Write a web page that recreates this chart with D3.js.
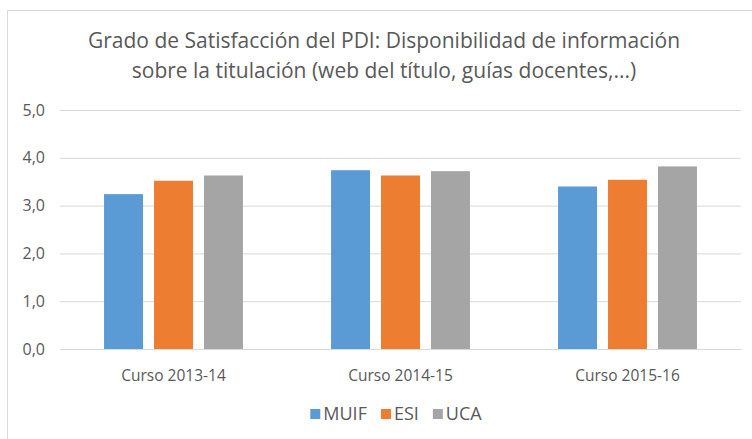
<!DOCTYPE html>
<html>
<head>
<meta charset="utf-8">
<title>Grado de Satisfacción del PDI</title>
<script src="https://d3js.org/d3.v7.min.js"></script>
<style>
  body { margin: 0; background: #fff; }
  text { font-family: "Open Sans", "Noto Sans", sans-serif; fill: #595959; }
</style>
</head>
<body>
<div id="container"></div>
<script>
// chart data
var categories = ["Curso 2013-14", "Curso 2014-15", "Curso 2015-16"];
var seriesNames = ["MUIF", "ESI", "UCA"];
var MUIF = [3.24, 3.74, 3.40];
var ESI = [3.52, 3.63, 3.54];
var UCA = [3.63, 3.72, 3.82];
var yTicks = [0, 1, 2, 3, 4, 5];
var titleLines = ["Grado de Satisfacción del PDI: Disponibilidad de información",
                  "sobre la titulación (web del título, guías docentes,...)"];

var colors = ["#5b9bd5", "#ed7d31", "#a5a5a5"];
var seriesValues = [MUIF, ESI, UCA];

var width = 752, height = 439;
var margin = {left: 60, right: 11, top: 110, bottom: 90};

var svg = d3.select("#container").append("svg")
    .attr("width", width).attr("height", height);

// outer chart frame
svg.append("rect")
    .attr("x", 7.5).attr("y", 10.5)
    .attr("width", 770).attr("height", 460)
    .attr("fill", "#fff").attr("stroke", "#d9d9d9");

var x0 = d3.scaleBand()
    .domain(categories)
    .range([margin.left, width - margin.right])
    .paddingInner(0.388).paddingOuter(0.194);

var x1 = d3.scaleBand()
    .domain(seriesNames)
    .range([0, x0.bandwidth()])
    .paddingInner(0.22);

var y = d3.scaleLinear()
    .domain([0, 5])
    .range([height - margin.bottom, margin.top]);

// gridlines + y labels
var yAxis = d3.axisLeft(y)
    .tickValues(yTicks)
    .tickSize(-(width - margin.left - margin.right))
    .tickPadding(15)
    .tickFormat(function(d) { return d3.format(".1f")(d).replace(".", ","); });

var gy = svg.append("g")
    .attr("transform", "translate(" + margin.left + ",0)")
    .call(yAxis);
gy.select(".domain").remove();
gy.selectAll(".tick line").attr("stroke", "#d9d9d9").attr("stroke-width", 1);
gy.selectAll(".tick text").attr("font-size", 16).attr("fill", "#595959")
    .style("font-family", "'Open Sans', sans-serif");

// bars
var groups = svg.append("g").selectAll("g")
    .data(categories)
    .enter().append("g")
    .attr("transform", function(d) { return "translate(" + x0(d) + ",0)"; });

groups.selectAll("rect")
    .data(function(d, i) {
      return seriesNames.map(function(s, j) { return {key: s, value: seriesValues[j][i], idx: j}; });
    })
    .enter().append("rect")
    .attr("x", function(d) { return x1(d.key); })
    .attr("y", function(d) { return y(d.value); })
    .attr("width", x1.bandwidth())
    .attr("height", function(d) { return y(0) - y(d.value); })
    .attr("fill", function(d) { return colors[d.idx]; });

// x axis labels
var xAxis = d3.axisBottom(x0).tickSize(0).tickPadding(21);
var gx = svg.append("g")
    .attr("transform", "translate(0," + y(0) + ")")
    .call(xAxis);
gx.select(".domain").attr("stroke", "#d9d9d9");
gx.selectAll(".tick text").attr("font-size", 15.5).attr("fill", "#595959")
    .style("font-family", "'Open Sans', sans-serif");

// title
svg.append("g").selectAll("text")
    .data(titleLines)
    .enter().append("text")
    .attr("x", 384)
    .attr("y", function(d, i) { return 48 + i * 30; })
    .attr("text-anchor", "middle")
    .attr("font-size", 21)
    .text(function(d) { return d; });

// legend, centred under the plot
var legend = svg.append("g");
var items = legend.selectAll("g")
    .data(seriesNames)
    .enter().append("g");
items.append("rect")
    .attr("y", 409)
    .attr("width", 10).attr("height", 10)
    .attr("fill", function(d, i) { return colors[i]; });
items.append("text")
    .attr("x", 13).attr("y", 419.5)
    .attr("font-size", 18)
    .text(function(d) { return d; });

var cursor = 0;
items.each(function() {
  d3.select(this).attr("transform", "translate(" + cursor + ",0)");
  cursor += 13 + d3.select(this).select("text").node().getComputedTextLength() + 14;
});
var legendW = cursor - 14;
legend.attr("transform", "translate(" + (396 - legendW / 2) + ",0)");
</script>
</body>
</html>
